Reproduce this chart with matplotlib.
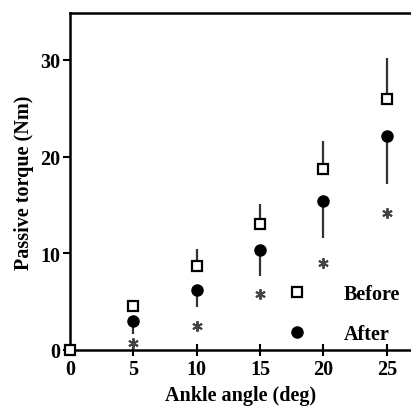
import matplotlib
matplotlib.use('Agg')
import matplotlib.pyplot as plt
from matplotlib.lines import Line2D

# Datos
angulos = [0, 5, 10, 15, 20, 25]
antes = [0, 4.5, 8.7, 13.0, 18.7, 26.0]
antes_err_sup = [0, 0.0, 1.7, 2.1, 2.9, 4.2]
despues = [0, 3.0, 6.2, 10.3, 15.4, 22.1]
despues_err_inf = [0, 1.4, 1.8, 2.7, 3.8, 4.9]
angulos_ast = [5, 10, 15, 20, 25]
asteriscos = [0.7, 2.45, 5.8, 9.0, 14.2]

plt.rcParams['font.family'] = ['Liberation Serif', 'DejaVu Serif']
plt.rcParams['font.weight'] = 'bold'

fig = plt.figure(figsize=(4.11, 4.10), dpi=100)
ax = fig.add_axes([0.170, 0.144, 0.830, 0.822])

ax.errorbar(angulos[1:], antes[1:], yerr=[[0] * 5, antes_err_sup[1:]], fmt='none',
            ecolor='#333333', elinewidth=1.6, capsize=0, zorder=2)
ax.errorbar(angulos[1:], despues[1:], yerr=[despues_err_inf[1:], [0] * 5], fmt='none',
            ecolor='#333333', elinewidth=1.6, capsize=0, zorder=2)
ax.plot(angulos, antes, 's', ms=7.2, mfc='white', mec='black', mew=1.6,
        linestyle='none', clip_on=False, zorder=4)
ax.plot(angulos[1:], despues[1:], 'o', ms=8, color='black',
        linestyle='none', zorder=3)
ax.plot(angulos_ast, asteriscos, marker=(6, 2, 0), ms=7.5, mew=1.4, color='#444444',
        linestyle='none', zorder=3)

ax.set_xlim(0, 26.9)
ax.set_ylim(0, 34.86)
ax.set_xticks([0, 5, 10, 15, 20, 25])
ax.set_yticks([0, 10, 20, 30])
ax.tick_params(axis='x', direction='inout', length=9, width=1.5, labelsize=14.5, pad=2)
ax.tick_params(axis='y', direction='out', length=5, width=1.5, labelsize=14.5, pad=2)
for lbl in ax.get_xticklabels() + ax.get_yticklabels():
    lbl.set_fontweight('bold')

for lado in ['left', 'bottom', 'top']:
    ax.spines[lado].set_linewidth(1.8)
ax.spines['right'].set_visible(False)

ax.set_xlabel('Ankle angle (deg)', fontsize=14.5, fontweight='bold', labelpad=4.5)
ax.set_ylabel('Passive torque (Nm)', fontsize=14.5, fontweight='bold', labelpad=4)

manejadores = [
    Line2D([], [], marker='s', ms=7.2, mfc='white', mec='black', mew=1.6, linestyle='none'),
    Line2D([], [], marker='o', ms=8, color='black', linestyle='none'),
]
ax.legend(manejadores, ['Before', 'After'], loc='lower right', bbox_to_anchor=(1.02, -0.035),
          frameon=False, handletextpad=1.3, labelspacing=0.95,
          prop={'size': 14.5, 'weight': 'bold'})

fig.savefig('out.png', dpi=100)
